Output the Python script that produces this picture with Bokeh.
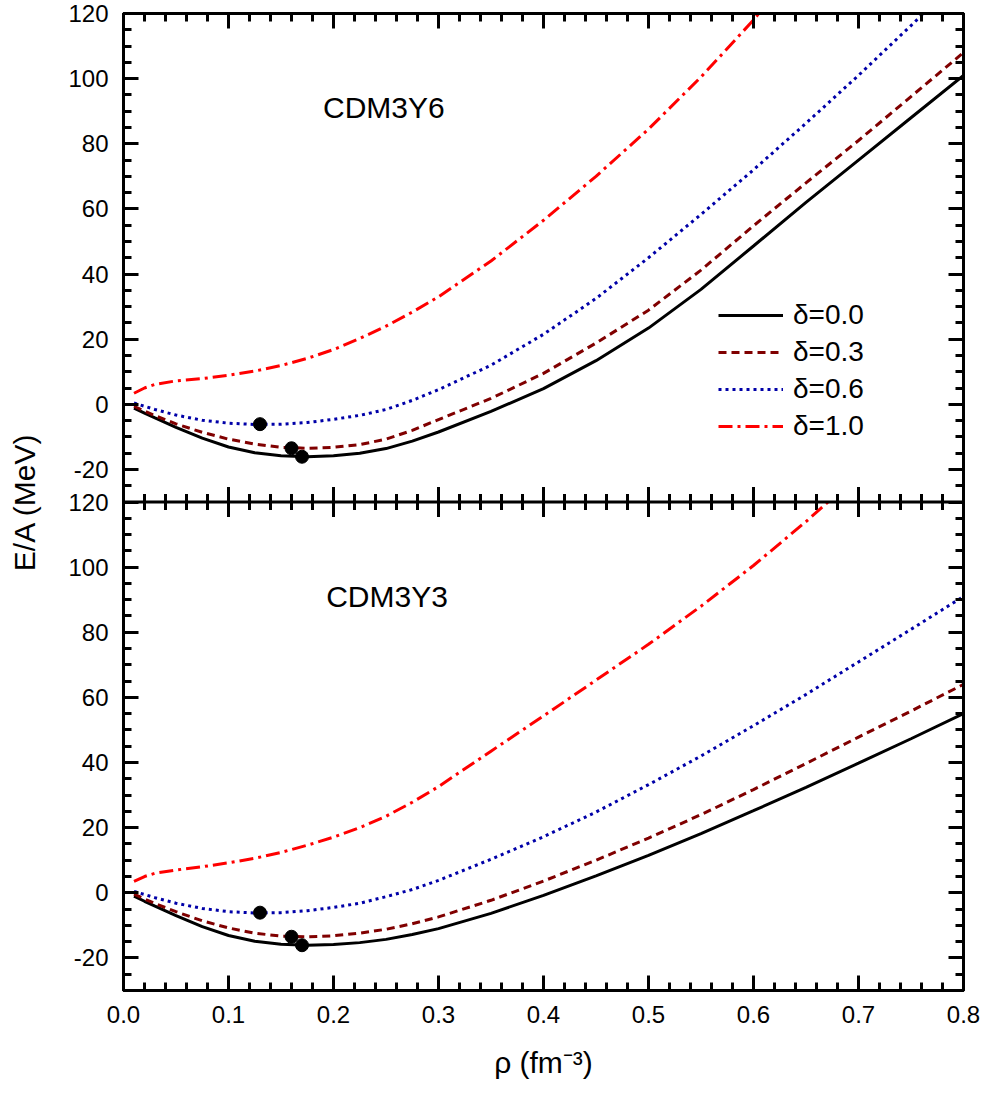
import numpy as np
from bokeh.plotting import figure
from bokeh.models import (Range1d, LinearAxis, FixedTicker, PrintfTickFormatter,
                          CustomJSTickFormatter, Span, Label, Legend, LegendItem)
from bokeh.embed import file_html
from bokeh.resources import INLINE

# ---------------- data ----------------
rho = [0.01, 0.02, 0.03, 0.05, 0.075, 0.1, 0.125, 0.15, 0.175, 0.2, 0.225, 0.25, 0.275,
       0.3, 0.35, 0.4, 0.45, 0.5, 0.55, 0.6, 0.65, 0.7, 0.75, 0.8]

# CDM3Y6 (upper panel)
y6_d00 = [-1.2, -2.7, -4.2, -7.1, -10.4, -13.1, -14.9, -15.8, -16.1, -15.8, -15.0, -13.6, -11.3,
          -8.5, -2.2, 4.8, 13.4, 23.4, 35.3, 48.6, 62.0, 75.0, 88.0, 101.0]
y6_d03 = [-0.6, -2.1, -3.5, -6.0, -8.6, -10.7, -12.2, -13.2, -13.5, -13.2, -12.4, -10.7, -8.0,
          -4.7, 1.8, 9.5, 18.8, 28.9, 41.2, 54.8, 68.0, 81.0, 94.5, 108.0]
rho_y6_d06 = [0.01, 0.02, 0.03, 0.05, 0.075, 0.1, 0.125, 0.15, 0.175, 0.2, 0.225, 0.25, 0.275,
              0.3, 0.35, 0.4, 0.45, 0.5, 0.55, 0.6, 0.65, 0.7, 0.75, 0.762]
y6_d06 = [0.4, -0.6, -1.6, -3.3, -4.9, -5.8, -6.2, -6.1, -5.6, -4.6, -3.4, -1.6, 1.2,
          4.5, 12.0, 21.5, 32.5, 45.0, 58.3, 72.0, 86.3, 101.0, 116.3, 120.0]
rho_y6_d10 = [0.01, 0.02, 0.03, 0.05, 0.075, 0.1, 0.125, 0.15, 0.175, 0.2, 0.225, 0.25, 0.275,
              0.3, 0.35, 0.4, 0.45, 0.5, 0.55, 0.6, 0.605]
y6_d10 = [3.4, 5.0, 6.1, 7.2, 7.9, 8.9, 10.2, 11.9, 14.1, 16.8, 20.2, 24.0, 28.3,
          33.0, 44.0, 56.5, 70.0, 84.5, 100.5, 118.0, 120.0]

# CDM3Y3 (lower panel)
y3_d00 = [-1.0, -2.6, -4.1, -7.0, -10.4, -13.1, -14.9, -15.8, -16.1, -15.9, -15.3, -14.3, -12.8,
          -11.0, -6.3, -0.8, 5.2, 11.5, 18.2, 25.2, 32.4, 39.8, 47.3, 55.0]
y3_d03 = [-0.4, -1.9, -3.3, -5.8, -8.6, -10.8, -12.4, -13.3, -13.5, -13.2, -12.4, -11.2, -9.5,
          -7.4, -2.3, 3.6, 10.0, 16.8, 24.0, 31.7, 39.7, 47.8, 55.8, 64.0]
y3_d06 = [0.4, -0.5, -1.5, -3.2, -4.8, -5.8, -6.2, -6.1, -5.5, -4.5, -3.2, -1.2, 1.0,
          3.8, 10.3, 17.2, 24.8, 33.2, 42.0, 51.3, 60.9, 70.9, 80.9, 91.0]
rho_y3_d10 = [0.01, 0.02, 0.03, 0.05, 0.075, 0.1, 0.125, 0.15, 0.175, 0.2, 0.225, 0.25, 0.275,
              0.3, 0.35, 0.4, 0.45, 0.5, 0.55, 0.6, 0.65, 0.671]
y3_d10 = [3.5, 5.0, 6.0, 7.0, 8.0, 9.2, 10.6, 12.4, 14.6, 17.1, 20.0, 23.5, 27.8,
          32.6, 43.5, 54.3, 65.3, 76.3, 88.0, 100.5, 114.0, 120.0]

# saturation points (same in both panels)
rho_sat = [0.13, 0.16, 0.17]
e_sat = [-6.1, -13.5, -16.1]

legend_labels = ["δ=0.0", "δ=0.3", "δ=0.6", "δ=1.0"]
panel_names = ["CDM3Y6", "CDM3Y3"]

x_major = [0.0, 0.1, 0.2, 0.3, 0.4, 0.5, 0.6, 0.7, 0.8]
y_labels = [-20, 0, 20, 40, 60, 80, 100, 120]
YMIN, YMAX = -30, 120

# ---------------- styling ----------------
FONT = "Liberation Sans"
styles = [
    dict(line_color="black", line_width=3),
    dict(line_color="#800000", line_width=3, line_dash="8 5"),
    dict(line_color="#0000a8", line_width=3, line_dash="3 4"),
    dict(line_color="#ff0000", line_width=3, line_dash="14 5 3 5"),
]

SPAN = YMAX - YMIN          # 150 per panel
p = figure(width=980, height=1092,
           x_range=Range1d(0, 0.8), y_range=Range1d(YMIN, YMAX + SPAN),
           output_backend="svg", toolbar_location=None,
           x_axis_location=None, y_axis_location=None,
           min_border_left=123, min_border_right=17,
           min_border_top=13, min_border_bottom=102)
p.extra_y_ranges = {"top": Range1d(YMIN - SPAN, YMAX)}
p.grid.visible = False
p.outline_line_color = "black"
p.outline_line_width = 3
p.background_fill_color = "white"
p.border_fill_color = "white"

x_minor = [round(v, 2) for v in np.arange(0, 0.8001, 0.02)]
y_major = y_labels + [v + SPAN for v in y_labels]
y_minor = list(range(YMIN, YMAX + SPAN + 1, 5))
overrides = {v: str(v) for v in y_labels}
overrides.update({v + SPAN: str(v) for v in y_labels})

xt = FixedTicker(ticks=x_major, minor_ticks=x_minor)
yt = FixedTicker(ticks=y_major, minor_ticks=y_minor)
blank = CustomJSTickFormatter(code="return ''")


def style_axis(ax, labels=True):
    ax.axis_line_width = 3
    ax.axis_line_color = "black"
    ax.major_tick_line_width = 3
    ax.minor_tick_line_width = 3
    ax.major_tick_in = 15
    ax.major_tick_out = 0
    ax.minor_tick_in = 8
    ax.minor_tick_out = 0
    ax.major_label_text_font = FONT
    ax.major_label_text_font_size = "24px"
    ax.major_label_text_color = "black"
    ax.major_label_standoff = 15 if labels else 0
    ax.axis_label_text_font = FONT
    ax.axis_label_text_font_size = "30px"
    ax.axis_label_text_font_style = "normal"
    ax.axis_label_text_color = "black"


bx = LinearAxis(ticker=xt, formatter=PrintfTickFormatter(format="%.1f"),
                axis_label="ρ (fm⁻³)")
style_axis(bx)
bx.axis_label_standoff = 20
p.add_layout(bx, "below")
tx = LinearAxis(ticker=xt, formatter=blank)
style_axis(tx, False)
p.add_layout(tx, "above")
ly = LinearAxis(ticker=yt, major_label_overrides=overrides, axis_label="E/A (MeV)")
style_axis(ly)
ly.axis_label_standoff = 24
p.add_layout(ly, "left")
ry = LinearAxis(ticker=yt, formatter=blank)
style_axis(ry, False)
p.add_layout(ry, "right")

# boundary between the two panels, with ticks on both sides
p.add_layout(Span(location=YMAX, dimension="width", line_color="black", line_width=3))
p.scatter(x=x_major, y=[YMAX] * len(x_major), marker="dash", angle=np.pi / 2,
          size=30, line_color="black", line_width=3)
x_min_only = [v for v in x_minor if all(abs(v - m) > 1e-6 for m in x_major)]
p.scatter(x=x_min_only, y=[YMAX] * len(x_min_only), marker="dash", angle=np.pi / 2,
          size=16, line_color="black", line_width=3)

# ---------------- curves ----------------
top_sets = [(rho, y6_d00), (rho, y6_d03), (rho_y6_d06, y6_d06), (rho_y6_d10, y6_d10)]
bot_sets = [(rho, y3_d00), (rho, y3_d03), (rho, y3_d06), (rho_y3_d10, y3_d10)]

top_r = []
for (xs, ys), st in zip(top_sets, styles):
    top_r.append(p.line(xs, ys, y_range_name="top", **st))
for (xs, ys), st in zip(bot_sets, styles):
    p.line(xs, ys, **st)

p.scatter(rho_sat, e_sat, y_range_name="top", size=13, color="black")
p.scatter(rho_sat, e_sat, size=13, color="black")

legend = Legend(items=[LegendItem(label=l, renderers=[r]) for l, r in zip(legend_labels, top_r)],
                location=(595, 548), border_line_color=None, background_fill_alpha=0,
                padding=0, margin=0, spacing=5, glyph_width=65, glyph_height=30,
                label_height=30, label_standoff=10, label_text_color="black",
                label_text_font=FONT, label_text_font_size="28px")
p.add_layout(legend)

p.add_layout(Label(x=0.19, y=91, y_range_name="top", text=panel_names[0], text_font=FONT,
                   text_font_size="30px", text_baseline="middle", text_color="black"))
p.add_layout(Label(x=0.193, y=91, text=panel_names[1], text_font=FONT,
                   text_font_size="30px", text_baseline="middle", text_color="black"))

open("out.html", "w").write(file_html(p, INLINE))
